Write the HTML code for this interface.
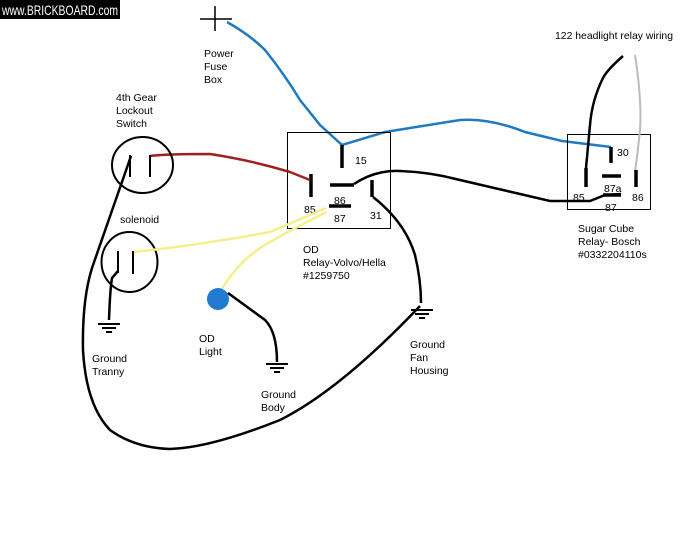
<!DOCTYPE html>
<html><head><meta charset="utf-8"><style>
html,body{margin:0;padding:0;background:#fff;}
svg{display:block;}
text{font-family:"Liberation Sans",sans-serif;font-size:10.5px;fill:#000;}
</style></head><body>
<svg width="689" height="556" viewBox="0 0 689 556" xmlns="http://www.w3.org/2000/svg">
<rect width="689" height="556" fill="#fff"/>
<rect x="0" y="0" width="120" height="19" fill="#000"/>
<text x="2" y="15" style="fill:#fff;font-size:14px" textLength="116" lengthAdjust="spacingAndGlyphs">www.BRICKBOARD.com</text>

<path d="M215 6V31M200 19H232" stroke="#000" stroke-width="1.5" fill="none"/>
<path d="M227 22 Q250 35 265 50 Q285 75 300 100 L320 125 L342 145 L385 132 L460 120 Q490 118 525 132 L562 141 L611 147" stroke="#1f7ac2" stroke-width="2.5" fill="none"/>

<rect x="287.5" y="132.5" width="103" height="96" fill="none" stroke="#000" stroke-width="1"/>
<g stroke="#000" stroke-width="3.5" fill="none">
<path d="M342 145V168M311 174V197M330 185H354M329 206H351M372 180V197"/>
</g>
<text x="355" y="164">15</text>
<text x="304" y="213">85</text>
<text x="334" y="204">86</text>
<text x="334" y="222">87</text>
<text x="370" y="219">31</text>

<path d="M150 156 Q165 154 210 154 Q250 160 290 172 L310 180" stroke="#a02020" stroke-width="2.5" fill="none"/>
<path d="M354 184 Q375 170 400 171 Q430 172 460 180 L550 201 L590 201 L605 195 L621 194" stroke="#000" stroke-width="2.5" fill="none"/>
<path d="M373 197 Q405 222 415 255 Q421 280 421 303" stroke="#000" stroke-width="2.5" fill="none"/>

<ellipse cx="142.5" cy="165" rx="30.5" ry="28" fill="none" stroke="#000" stroke-width="2"/>
<path d="M130 155V177M150 155V177" stroke="#000" stroke-width="2"/>
<path d="M131 156 L92 268 Q82 300 83 350 Q86 405 110 430 Q135 448 170 449 Q210 448 280 420 Q340 390 420 306" stroke="#000" stroke-width="2.5" fill="none"/>

<text x="120" y="223">solenoid</text>
<ellipse cx="129.5" cy="262" rx="28" ry="30" fill="none" stroke="#000" stroke-width="2"/>
<path d="M118 251V273M133 251V274" stroke="#000" stroke-width="2"/>
<path d="M118 271 L112 278 Q110 290 109 320" stroke="#000" stroke-width="2.5" fill="none"/>

<path d="M134 252 Q200 245 270 232 L326 208" stroke="#f3f08a" stroke-width="2.5" fill="none"/>
<path d="M327 212 Q300 225 270 242 Q240 258 220 292" stroke="#f3f08a" stroke-width="2.5" fill="none"/>

<circle cx="218" cy="299" r="11" fill="#1f7ad0"/>
<path d="M228 293 L265 320 Q277 332 277 362" stroke="#000" stroke-width="2.5" fill="none"/>

<g stroke="#000" stroke-width="2">
<path d="M98 324H120M102 328H116M106 332H112"/>
<path d="M266 364H288M270 368H284M274 372H280"/>
<path d="M411 310H433M415 314H429M419 318H425"/>
</g>

<rect x="567.5" y="134.5" width="83" height="75" fill="none" stroke="#000" stroke-width="1"/>
<path d="M635 55 Q642 100 640 130 Q638 150 635 172" stroke="#bbb" stroke-width="2" fill="none"/>
<path d="M623 56 Q607 70 603 78 Q592 100 590 125 L586 168" stroke="#000" stroke-width="2.5" fill="none"/>
<g stroke="#000" stroke-width="3.5">
<path d="M611 147V163M602 176H621M586 168V187M636 170V187M603 195H621"/>
</g>
<text x="617" y="156">30</text>
<text x="604" y="192">87a</text>
<text x="573" y="201">85</text>
<text x="605" y="211">87</text>
<text x="632" y="201">86</text>

<text x="555" y="39" textLength="118" lengthAdjust="spacingAndGlyphs">122 headlight relay wiring</text>
<text x="578" y="232">Sugar Cube</text>
<text x="578" y="245">Relay- Bosch</text>
<text x="578" y="258">#0332204110s</text>

<text x="204" y="57">Power</text>
<text x="204" y="70">Fuse</text>
<text x="204" y="83">Box</text>
<text x="116" y="101">4th Gear</text>
<text x="116" y="114">Lockout</text>
<text x="116" y="127">Switch</text>
<text x="303" y="253">OD</text>
<text x="303" y="266">Relay-Volvo/Hella</text>
<text x="303" y="279">#1259750</text>
<text x="92" y="362">Ground</text>
<text x="92" y="375">Tranny</text>
<text x="199" y="342">OD</text>
<text x="199" y="355">Light</text>
<text x="261" y="398">Ground</text>
<text x="261" y="411">Body</text>
<text x="410" y="348">Ground</text>
<text x="410" y="361">Fan</text>
<text x="410" y="374">Housing</text>
</svg>
</body></html>
